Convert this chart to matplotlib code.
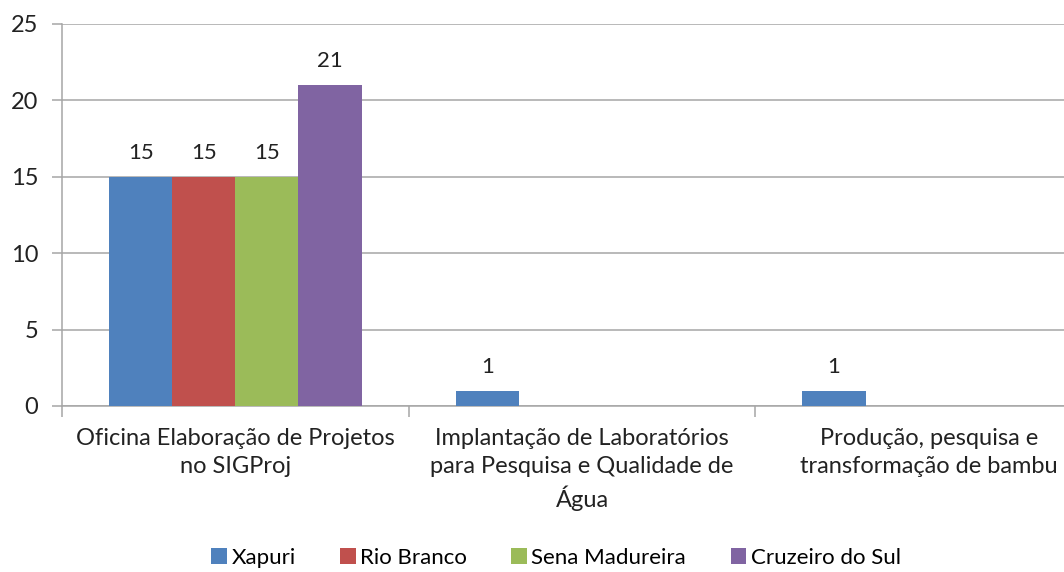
import matplotlib
matplotlib.use("Agg")
import matplotlib.pyplot as plt
import numpy as np

categories = [
    "Oficina Elaboração de Projetos\nno SIGProj",
    "Implantação de Laboratórios\npara Pesquisa e Qualidade de\nÁgua",
    "Produção, pesquisa e\ntransformação de bambu",
]
series = ["Xapuri", "Rio Branco", "Sena Madureira", "Cruzeiro do Sul"]
xapuri = [15, 1, 1]
rio_branco = [15, None, None]
sena_madureira = [15, None, None]
cruzeiro_do_sul = [21, None, None]
colors = ["#4F81BD", "#C0504D", "#9BBB59", "#8064A2"]

plt.rcParams["font.family"] = ["Lato", "DejaVu Sans"]

fig = plt.figure(figsize=(10.64, 5.72), dpi=100)
ax = fig.add_axes([62 / 1064, 1 - 406 / 572, 1040 / 1064, 382 / 572])

x = np.arange(len(categories))
w = 0.182
data = [xapuri, rio_branco, sena_madureira, cruzeiro_do_sul]
for i, (name, vals, c) in enumerate(zip(series, data, colors)):
    v = np.array([np.nan if a is None else a for a in vals], dtype=float)
    bars = ax.bar(x + (i - 1.5) * w, np.nan_to_num(v), w, color=c, label=name,
                  zorder=3)
    for b, val in zip(bars, v):
        if np.isnan(val):
            b.set_visible(False)
            continue
        ax.text(b.get_x() + b.get_width() / 2, val + 0.9, f"{val:g}",
                ha="center", va="bottom", fontsize=16, color="#222222")

ax.set_xlim(-0.5, len(categories) - 0.5)
ax.set_ylim(0, 25)
ax.set_yticks(range(0, 26, 5))
ax.yaxis.grid(True, color="#a6a6a6", linewidth=1.1, zorder=0)
ax.set_axisbelow(True)

ax.set_xticks(np.arange(-0.5, len(categories), 1.0))
ax.set_xticklabels([])
ax.set_xticks(x, minor=True)
ax.set_xticklabels(categories, minor=True, fontsize=17, color="#222222",
                   linespacing=1.4)
ax.tick_params(axis="x", which="minor", length=0, pad=16)
ax.tick_params(axis="x", which="major", length=8, color="#a6a6a6", width=1.1)
ax.tick_params(axis="y", length=7, color="#a6a6a6", width=1.1,
               labelsize=17, labelcolor="#222222", pad=10)

for s in ["top", "right"]:
    ax.spines[s].set_visible(False)
for s in ["left", "bottom"]:
    ax.spines[s].set_color("#a6a6a6")
    ax.spines[s].set_linewidth(1.1)

fig.legend(loc="center", bbox_to_anchor=(556 / 1064, 1 - 558 / 572), ncol=4,
           frameon=False, fontsize=16, handlelength=0.7, handleheight=0.7,
           handletextpad=0.2, columnspacing=2.0)

plt.savefig("out.png", dpi=100)
